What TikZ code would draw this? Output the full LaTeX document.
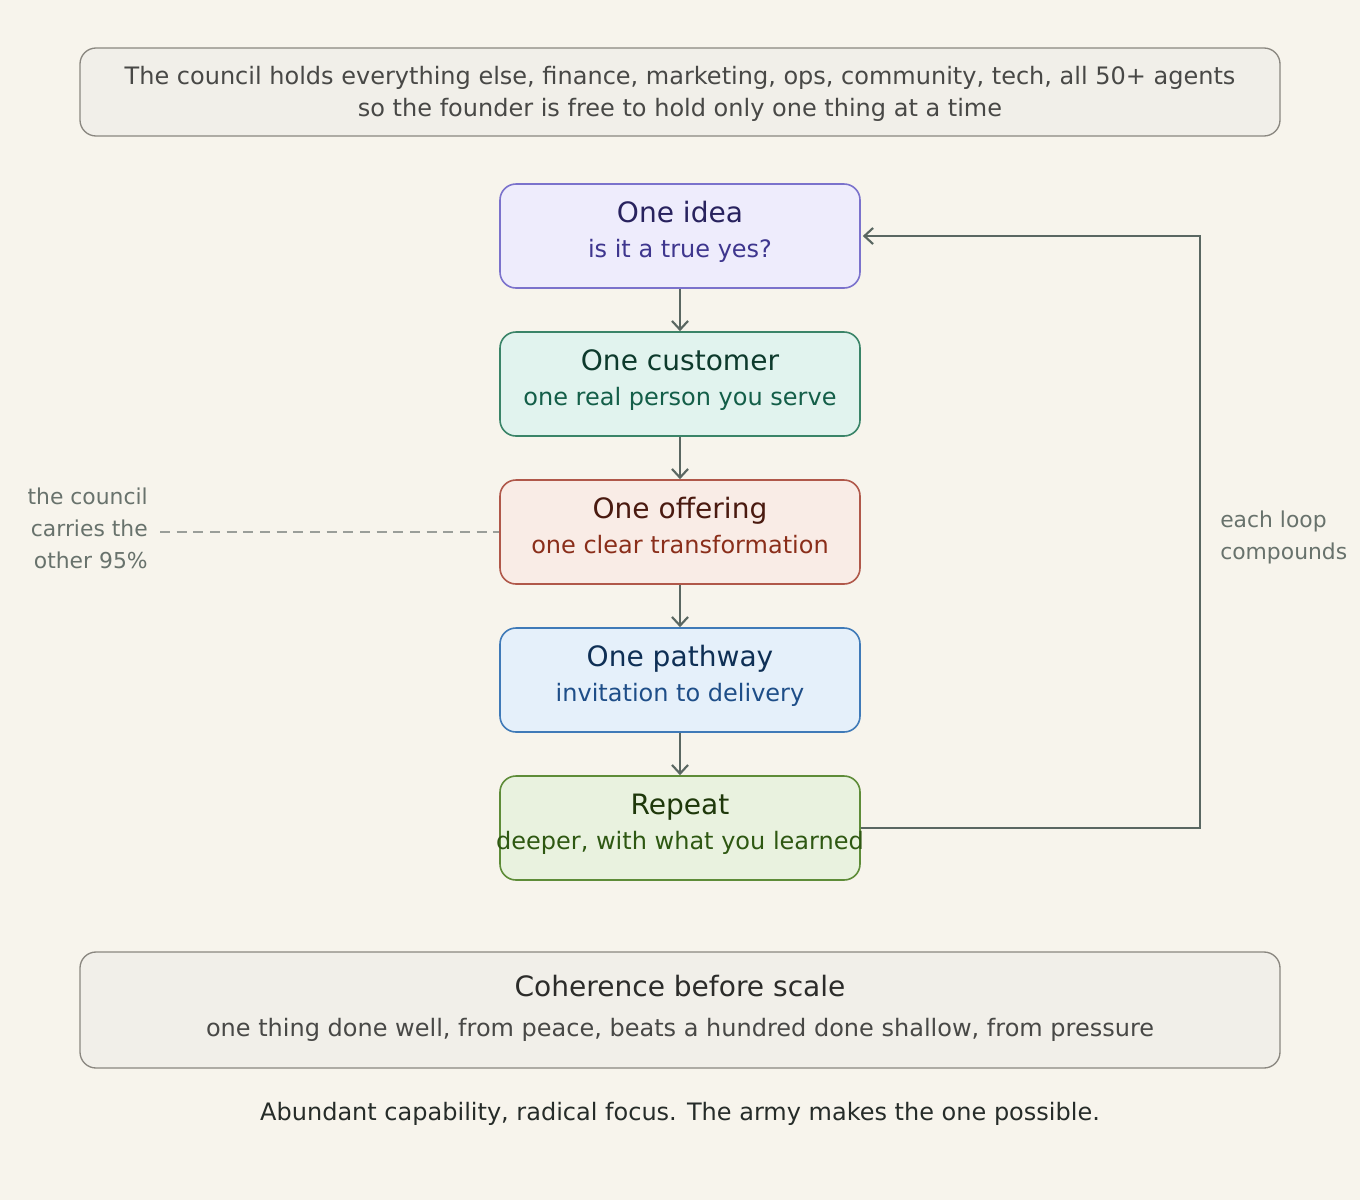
\documentclass[tikz,border=0pt]{standalone}
\usepackage{fontspec}
\setmainfont{DejaVu Sans}
\usetikzlibrary{arrows.meta}
\definecolor{bg}{HTML}{F7F4EC}
\definecolor{notefill}{HTML}{F1EFE9}
\definecolor{notedraw}{HTML}{8A8780}
\definecolor{notetext}{HTML}{484846}
\definecolor{arrowc}{HTML}{5A6762}
\definecolor{sidec}{HTML}{68726C}
\definecolor{dashc}{HTML}{9A9E99}
\definecolor{foottext}{HTML}{262C29}
\definecolor{cohtext}{HTML}{2C2C2A}
\definecolor{fA}{HTML}{EEECFC}\definecolor{dA}{HTML}{7B72CC}\definecolor{tA}{HTML}{28225E}\definecolor{sA}{HTML}{3E368E}
\definecolor{fB}{HTML}{E1F3EE}\definecolor{dB}{HTML}{3A8468}\definecolor{tB}{HTML}{0D3A2C}\definecolor{sB}{HTML}{135E48}
\definecolor{fC}{HTML}{F9ECE6}\definecolor{dC}{HTML}{B0584A}\definecolor{tC}{HTML}{4A1A10}\definecolor{sC}{HTML}{8A2E1A}
\definecolor{fD}{HTML}{E5F0FA}\definecolor{dD}{HTML}{3F7AB8}\definecolor{tD}{HTML}{0E2F55}\definecolor{sD}{HTML}{1E4E88}
\definecolor{fE}{HTML}{E9F2DF}\definecolor{dE}{HTML}{5E8C38}\definecolor{tE}{HTML}{1E380A}\definecolor{sE}{HTML}{2E5812}
\tikzset{
  stepbox/.style={draw=#1, line width=1.2pt, rounded corners=12pt, minimum width=270pt, minimum height=78pt, inner sep=0pt},
  notebox/.style={draw=notedraw, fill=notefill, line width=1pt, rounded corners=12pt, inner sep=0pt},
  ttl/.style={anchor=base, inner sep=0pt, font=\fontsize{21.05}{25}\selectfont},
  sub/.style={anchor=base, inner sep=0pt, font=\fontsize{18.0}{22}\selectfont},
  side/.style={inner sep=0pt, font=\fontsize{16.4}{19}\selectfont, text=sidec},
  flow/.style={draw=arrowc, line width=2pt, -{Straight Barb[length=6.5pt,width=12pt,line width=1.6pt]}},
}
\begin{document}
\begin{tikzpicture}[x=0.75pt,y=-0.75pt]
\useasboundingbox (0,0) rectangle (1360,1200);
\fill[bg] (0,0) rectangle (1360,1200);

% top note
\draw[notebox] (80,48) rectangle (1280,136);
\node[sub, text=notetext] (top1) at (680,84) {The council holds everything else, finance, marketing, ops, community, tech, all 50+ agents};
\node[sub, text=notetext] (top2) at (680,116) {so the founder is free to hold only one thing at a time};

% step boxes
\node[stepbox=dA, fill=fA] (idea) at (680,236) {};
\node[ttl, text=tA] (ideaT) at (680,222) {One idea};
\node[sub, text=sA] (ideaS) at (680,257) {is it a true yes?};

\node[stepbox=dB, fill=fB] (cust) at (680,384) {};
\node[ttl, text=tB] (custT) at (680,370) {One customer};
\node[sub, text=sB] (custS) at (680,405) {one real person you serve};

\node[stepbox=dC, fill=fC] (offer) at (680,532) {};
\node[ttl, text=tC] (offerT) at (680,518) {One offering};
\node[sub, text=sC] (offerS) at (680,553) {one clear transformation};

\node[stepbox=dD, fill=fD] (path) at (680,680) {};
\node[ttl, text=tD] (pathT) at (680,666) {One pathway};
\node[sub, text=sD] (pathS) at (680,701) {invitation to delivery};

\node[stepbox=dE, fill=fE] (rep) at (680,828) {};
\node[ttl, text=tE] (repT) at (680,814) {Repeat};
\node[sub, text=sE] (repS) at (680,849) {deeper, with what you learned};

% flow arrows
\draw[flow] (idea.south) -- (cust.north);
\draw[flow] (cust.south) -- (offer.north);
\draw[flow] (offer.south) -- (path.north);
\draw[flow] (path.south) -- (rep.north);

% loop back
\coordinate (lb) at (1200,828);
\coordinate (lt) at (1200,236);
\draw[flow] (rep.east) -- (lb) -- (lt) -- ([xshift=1.5pt]idea.east);
\node[side, anchor=base west] (loop1) at (1220,527) {each loop};
\node[side, anchor=base west] (loop2) at (1220,559) {compounds};

% side note
\node[side, anchor=base east] (c1) at (148,504) {the council};
\node[side, anchor=base east] (c2) at (148,536) {carries the};
\node[side, anchor=base east] (c3) at (148,568) {other 95\%};
\coordinate (dashstart) at (160,532);
\draw[dashc, line width=1.2pt, dash pattern=on 7.5pt off 5pt] (dashstart) -- (offer.west);

% bottom note
\draw[notebox] (80,952) rectangle (1280,1068);
\node[ttl, text=cohtext] (coh) at (680,996) {Coherence before scale};
\node[sub, text=notetext] (cohS) at (680,1036) {one thing done well, from peace, beats a hundred done shallow, from pressure};

% footer
\node[sub, text=foottext] (foot) at (680,1120) {Abundant capability, radical focus. The army makes the one possible.};
\end{tikzpicture}
\end{document}
